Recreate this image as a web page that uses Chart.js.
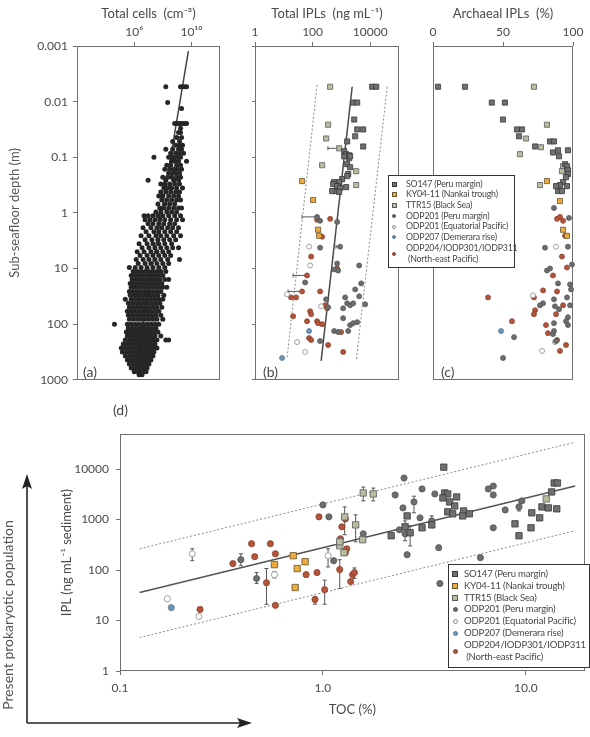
<!DOCTYPE html>
<html>
<head>
<meta charset="utf-8">
<script src="https://cdn.jsdelivr.net/npm/chart.js@4.4.1/dist/chart.umd.min.js"></script>
<style>
  body { margin: 0; background: #fff; font-family: Lato, "DejaVu Sans", sans-serif; color: #474747; }
  #fig { position: relative; width: 590px; height: 737px; overflow: hidden; }
  canvas { position: absolute; }
  .lab { position: absolute; font-size: 14px; line-height: 16px; white-space: nowrap; }
  .legend { position: absolute; background: #fff; border: 1.5px solid #333; box-sizing: border-box; }
  .legend div { position: absolute; white-space: nowrap; }
  .mk { box-sizing: border-box; }
</style>
</head>
<body>
<div id="fig">
  <canvas id="ca" width="226" height="392" style="left:0;top:0"></canvas>
  <canvas id="cb" width="172" height="392" style="left:236px;top:0"></canvas>
  <canvas id="cc" width="170" height="392" style="left:420px;top:0"></canvas>
  <canvas id="cd" width="550" height="317" style="left:40px;top:420px"></canvas>
  <svg style="position:absolute;left:0;top:0" width="590" height="737">
    <line x1="27" y1="723" x2="27" y2="484" stroke="#222" stroke-width="1.6"/>
    <polygon points="27,474 22,489 27,486 32,489" fill="#222"/>
    <line x1="27" y1="723" x2="242" y2="723" stroke="#222" stroke-width="1.6"/>
    <polygon points="252,723 237,718 240,723 237,728" fill="#222"/>
  </svg>
  <div class="lab" style="left:83px;top:364px">(a)</div>
  <div class="lab" style="left:263px;top:364px">(b)</div>
  <div class="lab" style="left:441px;top:364px">(c)</div>
  <div class="lab" style="left:113px;top:402px">(d)</div>
  <div class="lab" style="left:8px;top:615px;transform:translate(-50%,-50%) rotate(-90deg);color:#555">Present prokaryotic population</div>
  <div id="legB" class="legend"></div>
  <div id="legD" class="legend"></div>
</div>
<script>
const FONT = "Lato, 'DejaVu Sans', sans-serif";
const TEXT = '#4a4a4a';
const AXIS = '#707070';

// ---- shared categories / ticks ----
const categories = [
  ['SO147 (Peru margin)'],
  ['KY04-11 (Nankai trough)'],
  ['TTR15 (Black Sea)'],
  ['ODP201 (Peru margin)'],
  ['ODP201 (Equatorial Pacific)'],
  ['ODP207 (Demerara rise)'],
  ['ODP204/IODP301/IODP311', ' (North-east Pacific)']
];
const depthTicks = [0.001, 0.01, 0.1, 1, 10, 100, 1000];
const depthTickLabels = ['0.001', '0.01', '0.1', '1', '10', '100', '1000'];
const cellTicks = [6, 10];
const cellTickLabels = ['10\u2076', '10\u00b9\u2070'];
const iplTicks = [1, 100, 10000];
const archTicks = [0, 50, 100];
const tocTicks = [0.1, 1, 10];
const tocTickLabels = ['0.1', '1.0', '10.0'];
const iplDTicks = [1, 10, 100, 1000, 10000];

// ---- (a) total cells: [depth m, [log10 cells cm-3 ...]] ----
const cellRows = [
  [0.0054, [8.21, 9.24, 9.38, 9.52, 9.66]],
  [0.0104, [8.34]],
  [0.0133, [9.31]],
  [0.0247, [8.83, 8.97, 9.10, 9.24, 9.38, 9.52, 9.66]],
  [0.030, [9.24]],
  [0.036, [9.10, 9.24]],
  [0.044, [8.97, 9.31]],
  [0.052, [8.69, 9.17]],
  [0.061, [8.90, 9.17, 9.38]],
  [0.072, [8.21, 8.69, 9.10, 9.31]],
  [0.085, [8.55, 8.90, 9.17, 9.45]],
  [0.10, [7.38, 8.41, 8.69, 8.97, 9.24]],
  [0.118, [8.62, 8.83, 9.10, 9.66]],
  [0.139, [8.28, 8.55, 8.97, 9.24]],
  [0.164, [8.14, 8.48, 8.76, 9.03, 9.31]],
  [0.193, [8.41, 8.69, 8.90, 9.17]],
  [0.228, [8.00, 8.34, 8.62, 8.97, 9.24]],
  [0.258, [6.97, 8.21, 8.76, 9.10]],
  [0.303, [7.86, 8.14, 8.48, 8.83, 9.17]],
  [0.358, [8.07, 8.34, 8.62, 8.97, 9.38]],
  [0.422, [7.86, 8.21, 8.55, 8.90, 9.17]],
  [0.497, [7.72, 8.00, 8.41, 8.76, 9.10]],
  [0.586, [7.93, 8.28, 8.62, 8.97, 9.24]],
  [0.69, [7.66, 8.14, 8.48, 8.83]],
  [0.815, [7.79, 8.07, 8.41, 8.76, 9.10, 9.31]],
  [0.96, [7.52, 7.86, 8.28, 8.62, 8.97]],
  [1.13, [6.69, 6.97, 7.31, 7.66, 8.00, 8.41, 8.83, 9.24]],
  [1.33, [6.76, 7.10, 7.45, 7.79, 8.14, 8.55, 8.97, 9.38]],
  [1.57, [6.97, 7.31, 7.72, 8.07, 8.48, 8.83]],
  [1.85, [6.62, 7.17, 7.59, 7.93, 8.34, 8.69, 9.10]],
  [2.18, [6.83, 7.38, 7.72, 8.14, 8.55, 8.97]],
  [2.58, [6.48, 7.03, 7.52, 7.86, 8.28, 8.76, 9.24]],
  [3.03, [6.76, 7.24, 7.66, 8.07, 8.48, 8.90]],
  [3.58, [6.34, 6.90, 7.31, 7.72, 8.14, 8.62]],
  [4.22, [6.55, 7.03, 7.45, 7.86, 8.28, 8.69, 9.10]],
  [4.97, [6.21, 6.69, 7.17, 7.59, 8.00, 8.41]],
  [5.86, [6.41, 6.90, 7.31, 7.72, 8.14, 8.55]],
  [6.9, [6.14, 6.62, 7.03, 7.45, 7.86, 8.34, 9.17]],
  [8.15, [6.28, 6.76, 7.17, 7.59, 8.00, 8.41]],
  [9.6, [5.66, 6.07, 6.48, 6.90, 7.31, 7.72, 8.14]],
  [11.3, [5.93, 6.21, 6.48, 6.76, 7.03, 7.31, 7.59, 7.86, 8.21]],
  [13.3, [5.79, 6.07, 6.34, 6.62, 6.90, 7.17, 7.45, 7.72, 8.00]],
  [15.7, [5.86, 6.14, 6.41, 6.69, 6.97, 7.24, 7.52, 7.79, 8.14, 8.41]],
  [18.5, [5.72, 6.00, 6.28, 6.55, 6.83, 7.10, 7.38, 7.66, 7.93]],
  [21.8, [5.79, 6.07, 6.34, 6.62, 6.90, 7.17, 7.45, 7.72, 8.00, 8.28]],
  [25.8, [5.66, 5.93, 6.21, 6.48, 6.76, 7.03, 7.31, 7.59, 7.86]],
  [30.3, [5.72, 6.00, 6.28, 6.55, 6.83, 7.10, 7.38, 7.66, 8.07]],
  [35.8, [5.38, 5.79, 6.07, 6.34, 6.62, 6.90, 7.17, 7.45, 7.72, 8.00]],
  [42.2, [5.59, 5.86, 6.14, 6.41, 6.69, 6.97, 7.24, 7.52, 7.79]],
  [49.7, [5.66, 5.93, 6.21, 6.48, 6.76, 7.03, 7.31, 7.59, 7.93]],
  [58.6, [5.52, 5.79, 6.07, 6.34, 6.62, 6.90, 7.17, 7.45, 7.72]],
  [69, [5.59, 5.86, 6.14, 6.41, 6.69, 6.97, 7.24, 7.52, 7.86]],
  [81.5, [5.66, 5.93, 6.21, 6.48, 6.76, 7.03, 7.31, 7.59, 8.00]],
  [100, [4.62, 5.52, 5.79, 6.07, 6.34, 6.62, 6.90, 7.17, 7.45, 7.72]],
  [118, [5.59, 5.86, 6.14, 6.41, 6.69, 6.97, 7.24, 7.52]],
  [139, [5.45, 5.72, 6.00, 6.28, 6.55, 6.83, 7.10, 7.38, 7.66]],
  [164, [5.52, 5.79, 6.07, 6.34, 6.62, 6.90, 7.17, 7.45, 7.86]],
  [193, [5.38, 5.66, 5.93, 6.21, 6.48, 6.76, 7.03, 7.31, 7.59, 8.21, 8.41]],
  [228, [5.24, 5.52, 5.79, 6.07, 6.34, 6.62, 6.90, 7.17, 7.45]],
  [268, [5.10, 5.38, 5.66, 5.93, 6.21, 6.48, 6.76, 7.03, 7.31, 7.59]],
  [316, [5.17, 5.45, 5.72, 6.00, 6.28, 6.55, 6.83, 7.10, 7.38]],
  [372, [5.38, 5.66, 5.93, 6.21, 6.48, 6.76, 7.03, 7.31]],
  [440, [5.52, 5.79, 6.07, 6.34, 6.62, 6.90, 7.17]],
  [518, [5.66, 5.93, 6.21, 6.48, 6.76, 7.03]],
  [611, [5.79, 6.07, 6.34, 6.62, 6.90]],
  [719, [6.00, 6.28, 6.55, 6.83]],
  [815, [6.34, 6.55]]
];
const cellFitExp = [9.79, 6.14];
const cellFitDepth = [0.00123, 500];

// ---- (b) total IPLs: [ng mL-1, depth m] ----
const bSO147 = [[11700,0.0054],[16200,0.0054],[2560,0.0104],[3530,0.0104],[2780,0.021],[3530,0.0316],[5710,0.0316],
  [3010,0.042],[1585,0.052],[5710,0.064],[1250,0.078],[1460,0.088],[1860,0.092],[1250,0.096],[1860,0.104],[2010,0.096],
  [1585,0.133],[2010,0.151],[1720,0.20],[1585,0.218],[1060,0.247],[836,0.28],[560,0.28],[516,0.303],[711,0.33],
  [906,0.358],[606,0.405],[477,0.405],[1460,0.344],[836,0.42]];
const bKY = [[43,0.268],[104,0.586],[155,2.01],[168,2.58]];
const bTTR = [[406,0.0054],[346,0.026],[295,0.046],[836,0.069],[214,0.139],[3260,0.178],[3260,0.316]];
const bP201 = [[143,1.18],[182,1.39],[711,1.45],[182,4.22],[906,4.05],[711,8.15],[560,10.4],[771,10.9],[4140,8.8],
  [4860,18.5],[3010,23.7],[4140,31.6],[6700,44],[1585,42.2],[2010,45.8],[2560,42.2],[1350,33],[1150,51.8],[1150,78.1],
  [295,35.8],[346,49.7],[2010,104],[2560,95.9],[3530,92.1],[1720,133],[560,133],[771,139],[55,17.8],[182,201]];
const bE201 = [[75.5,4.05],[82,8.8],[13,29.1],[198,47.7],[28.9,210],[55,316]];
const b207 = [[75.5,133],[8.7,405]];
const b204 = [[143,1.33],[406,1.28],[214,2.68],[89,6.1],[64,13.3],[43,25.8],[17.9,33],[26.7,33],[21,71.9],[82,58.6],
  [89,66.2],[64,88.4],[143,88.4],[155,95.9],[182,25.8],[272,45.8],[319,51.8],[75.5,178],[89,193],[346,237],[1150,316],
  [980,139],[711,10],[214,100]];
const bErr = [[0.069,340,836],[1.18,43,143],[13.3,21,64],[25.8,14,43],[4.05,650,906],[133,500,771]]; // [depth, lo, hi]
const bFitIpl = [2370, 198], bFitDepth = [0.0054, 458];
const bLowIpl = [143, 13], bLowDepth = [0.0050, 405];
const bHighIpl = [39000, 3260], bHighDepth = [0.0054, 458];

// ---- (c) archaeal IPLs: [%, depth m] ----
const cSO147 = [[3.6,0.0054],[22.9,0.0054],[42,0.0104],[51.4,0.0104],[50,0.021],[60,0.0316],[63.6,0.0316],[61.4,0.042],
  [72.9,0.064],[83.6,0.052],[86.4,0.052],[85.7,0.082],[89.3,0.075],[96.4,0.075],[90,0.096],[94.3,0.133],[95.7,0.145],
  [96.4,0.171],[96.4,0.20],[95,0.228],[92.9,0.28],[90.7,0.316],[89.3,0.405],[92.1,0.405],[95.7,0.33],[87.9,0.33]];
const cKY = [[81.4,0.268],[90.7,0.611],[92.9,2.01],[95.7,2.58]];
const cTTR = [[72.1,0.0054],[81.4,0.026],[66.4,0.046],[77.1,0.066],[62.1,0.088],[76.4,0.316],[92.9,0.145],[92.1,0.178]];
const cP201 = [[86.4,0.815],[97.1,1.23],[80,4.22],[96.4,4.05],[81.4,10.9],[83.6,10],[99.3,8.48],[89.3,18.5],[97.9,19.3],
  [98.6,23.7],[95.7,33],[78.6,42.2],[76.4,45.8],[86.4,35.8],[87.1,47.7],[90,54],[97.9,45.8],[96.4,75],[86.4,95.9],
  [95,88.4],[96.4,104],[86.4,133],[85.7,151],[57.9,171],[50,405],[87.9,201]];
const cE201 = [[87.9,4.05],[71.4,30.3],[87.1,210],[77.9,303]];
const c207 = [[48.6,133]];
const c204 = [[88.6,1.28],[90.7,1.18],[92.9,1.39],[94.3,2.58],[92.1,6.1],[95.7,9.6],[85.7,13.3],[39.3,33],[72.1,33],
  [78.6,24.7],[88.6,25.8],[56.4,88.4],[72.9,56.2],[72.1,66.2],[87.9,66.2],[92.9,45.8],[80.7,104],[82.1,145],[88.6,193],
  [95,237],[90.7,303]];

// ---- (d) IPL vs TOC: [TOC %, IPL ng mL-1] ----
const dSO147 = [[3.94,10900],[3.98,3360],[4.12,3210],[3.90,2680],[4.21,2230],[4.46,1860],[4.56,2800],[4.12,1420],
  [4.36,1300],[4.93,1480],[4.88,1180],[5.27,1300],[2.17,477],[2.60,1180],[2.54,718],[2.69,547],[3.08,686],[3.44,785],
  [8.84,822],[9.25,477],[10.6,686],[10.7,1360],[11.7,1080],[12.0,1780],[12.9,1700],[14.2,1630],[13.4,3520],[13.8,5300],
  [14.3,5300]];
const dKY = [[0.577,128],[0.714,192],[0.747,107],[0.817,146],[0.730,45]];
const dTTR = [[1.28,1130],[1.45,785],[1.21,303],[1.21,363],[1.27,220],[1.57,398],[1.58,3360],[1.77,3210],[12.6,2560]];
const dP201 = [[0.394,160],[0.471,68],[1.0,1950],[1.07,1130],[1.13,153],[1.58,522],[2.27,3070],[2.51,6640],[2.48,1700],
  [2.38,626],[2.60,201],[2.54,522],[2.81,2230],[3.08,4030],[3.01,1080],[3.44,942],[3.56,3210],[3.72,277],[3.77,54],
  [5.97,176],[6.53,4030],[6.91,4620],[6.91,3070],[6.91,686],[7.91,1550],[9.25,1780],[9.56,2340]];
const dE201 = [[0.227,210],[0.171,27],[0.245,12],[0.577,81],[1.06,192]];
const d207 = [[0.179,18]];
const d204 = [[0.248,16.6],[0.360,134],[0.445,332],[0.461,184],[0.551,332],[0.583,210],[0.527,56],[0.583,20],[0.826,81],
  [0.935,89],[0.956,1130],[0.914,26],[1.02,41],[1.21,102],[1.22,416],[1.24,718],[1.29,1030],[1.29,220],[1.31,264],
  [1.37,59],[1.40,81],[1.43,89]];
const dErr = [[0.227,153,264],[0.394,122,210],[0.471,54,89],[0.527,21,107],[0.577,70,92],[0.914,21,30],[1.02,21,63],
  [1.06,115,264],[1.21,43,160],[1.28,500,1780],[1.45,363,1240],[1.43,68,110],[1.58,2340,4400],[1.77,2340,4200],
  [2.54,380,940],[2.69,300,750],[2.81,1360,2900],[3.44,686,1180],[9.25,1480,2450]]; // [TOC, lo, hi]
const dFitToc = [0.125, 17.5], dFitIpl = [35.8, 4630];
const dHighIpl = [263, 34000], dLowIpl = [4.6, 600];

// marker look per category (same order as categories)
const catStyle = [
  { shape: 'rect', fill: '#6f7072', edge: '#383838' },
  { shape: 'rect', fill: '#e9aa3e', edge: '#6a5430' },
  { shape: 'rect', fill: '#b9bd9f', edge: '#5c5c5c' },
  { shape: 'circle', fill: '#6b6d70', edge: '#555' },
  { shape: 'circle', fill: '#ffffff', edge: '#8a8a8a' },
  { shape: 'circle', fill: '#6f95b9', edge: '#58789a' },
  { shape: 'circle', fill: '#b4553b', edge: '#8a3f2c' }
];

// ---- helpers ----
const pairs = arr => arr.map(([x, y]) => ({ x, y }));
const zip = (xs, ys) => xs.map((x, i) => ({ x, y: ys[i] }));
const ticksAt = vals => s => { s.ticks = vals.map(v => ({ value: v })); };

function catSet(points, i, r) {
  const st = catStyle[i];
  return {
    data: pairs(points), pointStyle: st.shape, pointRadius: st.shape === 'rect' ? r * 1.45 : r,
    backgroundColor: st.fill, borderColor: st.edge, borderWidth: 0.8, clip: false
  };
}
function lineSet(data, dashed, color) {
  return { data, showLine: true, pointRadius: 0, borderColor: color, borderWidth: dashed ? 1 : 1.5,
    borderDash: dashed ? [2, 2] : [], fill: false };
}
function frame(color) {
  return { id: 'frame', beforeDatasetsDraw(chart) {
    const { ctx, chartArea: a } = chart;
    ctx.save(); ctx.strokeStyle = color; ctx.lineWidth = 1;
    ctx.strokeRect(Math.round(a.left) + 0.5, Math.round(a.top) + 0.5, Math.round(a.width) - 1, Math.round(a.height) - 1);
    ctx.restore();
  } };
}
function errBars(bars, horizontal) {
  return { id: 'errBars', beforeDatasetsDraw(chart) {
    const { ctx, scales: { x, y } } = chart;
    ctx.save(); ctx.strokeStyle = '#555'; ctx.lineWidth = 1; ctx.beginPath();
    bars.forEach(([c, lo, hi]) => {
      if (horizontal) {
        const py = y.getPixelForValue(c), a = x.getPixelForValue(lo), b = x.getPixelForValue(hi);
        ctx.moveTo(a, py); ctx.lineTo(b, py);
        ctx.moveTo(a, py - 2); ctx.lineTo(a, py + 2); ctx.moveTo(b, py - 2); ctx.lineTo(b, py + 2);
      } else {
        const px = x.getPixelForValue(c), a = y.getPixelForValue(lo), b = y.getPixelForValue(hi);
        ctx.moveTo(px, a); ctx.lineTo(px, b);
        ctx.moveTo(px - 2, a); ctx.lineTo(px + 2, a); ctx.moveTo(px - 2, b); ctx.lineTo(px + 2, b);
      }
    });
    ctx.stroke(); ctx.restore();
  } };
}
const tickFont = { family: FONT, size: 12 };
const titleFont = { family: FONT, size: 13 };

function topAxis(cfg) {
  return Object.assign({
    position: 'top', afterFit: s => { s.height = 44; },
    grid: { drawOnChartArea: false, tickLength: 4, color: AXIS }, border: { display: false },
    title: { display: true, text: cfg.title, font: titleFont, color: TEXT, padding: { top: 4, bottom: 2 } }
  }, cfg.scale, {
    ticks: { font: tickFont, color: TEXT, padding: 3, autoSkip: false, maxRotation: 0, callback: cfg.label }
  });
}
function depthAxis(width, labels, title) {
  return {
    type: 'logarithmic', reverse: true, min: 0.001, max: 1000, afterBuildTicks: ticksAt(depthTicks),
    afterFit: s => { s.width = width; },
    ticks: { font: tickFont, color: TEXT, padding: 5, autoSkip: false, callback: (v, i) => labels ? depthTickLabels[i] : '' },
    grid: { display: labels !== null, drawOnChartArea: false, tickLength: labels ? 4 : 3, color: AXIS },
    border: { display: false },
    title: { display: !!title, text: title || '', font: titleFont, color: '#555', padding: { top: 4, bottom: 4 } }
  };
}
function makeChart(id, datasets, scales, padding, plugins) {
  return new Chart(document.getElementById(id), {
    type: 'scatter', data: { datasets },
    options: {
      responsive: false, animation: false, devicePixelRatio: 1, events: [],
      layout: { padding },
      plugins: { legend: { display: false }, tooltip: { enabled: false } },
      scales
    },
    plugins
  });
}

// ---- (a) ----
const cellPoints = [];
cellRows.forEach(([d, exps]) => exps.forEach(e => cellPoints.push({ x: e, y: d })));
makeChart('ca', [
  { data: cellPoints, pointRadius: 2.5, backgroundColor: '#262626', borderWidth: 0 },
  lineSet(zip(cellFitExp, cellFitDepth), false, '#444')
], {
  x: topAxis({ title: 'Total cells  (cm\u207b\u00b3)', label: (v, i) => cellTickLabels[i],
    scale: { type: 'linear', min: 2, max: 12, afterBuildTicks: ticksAt(cellTicks) } }),
  y: depthAxis(74, true, 'Sub-seafloor depth (m)')
}, { left: 3, top: 2, right: 6, bottom: 10 }, [frame(AXIS)]);

// ---- (b) ----
const bSets = [bSO147, bKY, bTTR, bP201, bE201, b207, b204].map((p, i) => catSet(p, i, 2.5));
makeChart('cb', bSets.concat([
  lineSet(zip(bFitIpl, bFitDepth), false, '#4a4a4a'),
  lineSet(zip(bLowIpl, bLowDepth), true, '#8a8a8a'),
  lineSet(zip(bHighIpl, bHighDepth), true, '#8a8a8a')
]), {
  x: topAxis({ title: 'Total IPLs  (ng mL\u207b\u00b9)', label: v => String(v),
    scale: { type: 'logarithmic', min: 1, max: 100000, afterBuildTicks: ticksAt(iplTicks) } }),
  y: depthAxis(19, false, null)
}, { left: 0, top: 2, right: 9, bottom: 10 }, [frame(AXIS), errBars(bErr, true)]);

// ---- (c) ----
const cSets = [cSO147, cKY, cTTR, cP201, cE201, c207, c204].map((p, i) => catSet(p, i, 2.5));
makeChart('cc', cSets, {
  x: topAxis({ title: 'Archaeal IPLs  (%)', label: v => String(v),
    scale: { type: 'linear', min: 0, max: 100, afterBuildTicks: ticksAt(archTicks) } }),
  y: depthAxis(13, null, null)
}, { left: 0, top: 2, right: 17, bottom: 10 }, [frame(AXIS)]);

// ---- (d) ----
const dSets = [dSO147, dKY, dTTR, dP201, dE201, d207, d204].map((p, i) => catSet(p, i, 3.1));
makeChart('cd', dSets.concat([
  lineSet(zip(dFitToc, dFitIpl), false, '#555'),
  lineSet(zip(dFitToc, dHighIpl), true, '#8a8a8a'),
  lineSet(zip(dFitToc, dLowIpl), true, '#8a8a8a')
]), {
  x: {
    type: 'logarithmic', position: 'bottom', min: 0.1, max: 19.5, afterBuildTicks: ticksAt(tocTicks),
    afterFit: s => { s.height = 51; },
    ticks: { font: tickFont, color: TEXT, padding: 6, autoSkip: false, maxRotation: 0, callback: (v, i) => tocTickLabels[i] },
    grid: { drawOnChartArea: false, tickLength: 4, color: AXIS }, border: { display: false },
    title: { display: true, text: 'TOC (%)', font: titleFont, color: TEXT, padding: { top: 4, bottom: 4 } }
  },
  y: {
    type: 'logarithmic', min: 1, max: 49000, afterBuildTicks: ticksAt(iplDTicks),
    afterFit: s => { s.width = 65; },
    ticks: { font: tickFont, color: TEXT, padding: 7, autoSkip: false, callback: v => String(v) },
    grid: { drawOnChartArea: false, tickLength: 4, color: AXIS }, border: { display: false },
    title: { display: true, text: 'IPL (ng mL\u207b\u00b9 sediment)', font: titleFont, color: TEXT, padding: { top: 4, bottom: 4 } }
  }
}, { left: 15, top: 13, right: 1, bottom: 15 }, [frame(AXIS), errBars(dErr, false)]);

// ---- legends ----
function buildLegend(id, box, rows, markX, textX, fontSize, spacing, mSize) {
  const el = document.getElementById(id);
  Object.assign(el.style, { left: box[0] + 'px', top: box[1] + 'px', width: box[2] + 'px', height: box[3] + 'px' });
  categories.forEach((lines, i) => {
    const st = catStyle[i];
    const ys = rows[i];
    const my = ys.length > 1 ? (ys[0] + ys[1]) / 2 : ys[0];
    const m = document.createElement('div');
    m.className = 'mk';
    const s = st.shape === 'rect' ? mSize : mSize - 1;
    Object.assign(m.style, { left: (markX - s / 2) + 'px', top: (my - s / 2) + 'px', width: s + 'px', height: s + 'px',
      background: st.fill, border: '0.8px solid ' + st.edge, borderRadius: st.shape === 'rect' ? '0' : '50%' });
    el.appendChild(m);
    lines.forEach((t, k) => {
      const d = document.createElement('div');
      d.textContent = t;
      Object.assign(d.style, { left: textX + 'px', top: (ys[k] - fontSize * 0.62) + 'px', fontSize: fontSize + 'px',
        lineHeight: (fontSize * 1.2) + 'px', color: '#474747', whiteSpace: 'pre', letterSpacing: spacing + 'px' });
      el.appendChild(d);
    });
  });
}
buildLegend('legB', [388, 175, 127, 93], [[8], [18.5], [29], [40], [50.5], [61], [72.5, 83]], 5, 17, 8.8, -0.2, 5);
buildLegend('legD', [448, 564, 142, 104], [[9], [21], [32.5], [44], [56], [68], [80, 92]], 6, 15, 9.6, -0.2, 6);
</script>
</body>
</html>
